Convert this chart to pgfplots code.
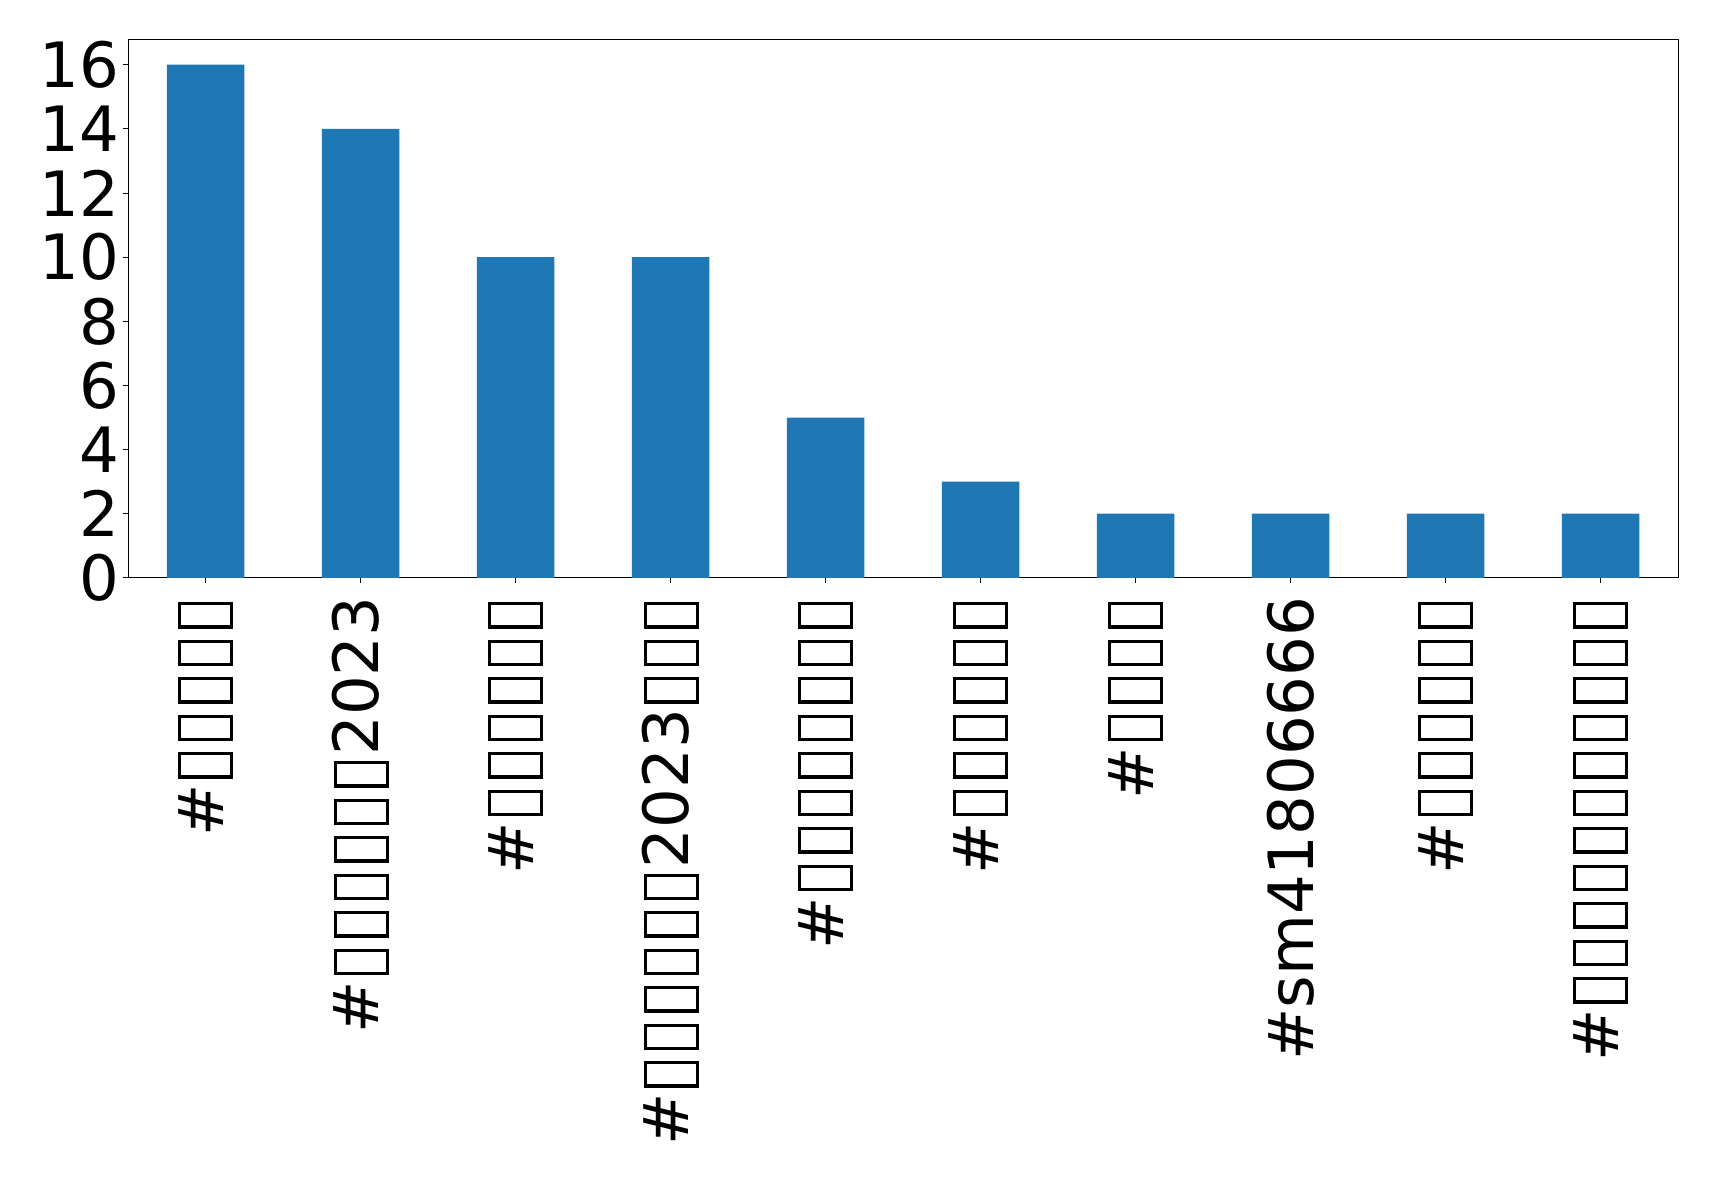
\documentclass[border=0pt]{standalone}
\usepackage{fontspec}
\setmainfont{DejaVu Sans}
\usepackage{pgfplots}
\pgfplotsset{compat=1.18}
\definecolor{barblue}{HTML}{1F77B4}
% empty glyph box, as the renderer drew missing characters
\newcommand\T{\kern0.09em{\setlength\fboxsep{0pt}\setlength\fboxrule{0.05em}\fbox{\rule[-0.11em]{0pt}{0.78em}\rule{0.32em}{0pt}}}\kern0.09em}
\begin{document}
\begin{tikzpicture}
\begin{axis}[
    name=ax,
    scale only axis,
    width=1116pt, height=388pt,
    xmin=-0.5, xmax=9.5,
    ymin=0, ymax=16.8,
    xtick={0,...,9},
    xticklabels={
        {\#\T\T\T\T\T},
        {\#\T\T\T\T\T\T2023},
        {\#\T\T\T\T\T\T},
        {\#\T\T\T\T\T\T2023\T\T\T},
        {\#\T\T\T\T\T\T\T\T},
        {\#\T\T\T\T\T\T},
        {\#\T\T\T\T},
        {\#sm41806666},
        {\#\T\T\T\T\T\T},
        {\#\T\T\T\T\T\T\T\T\T\T\T}},
    ytick={0,2,...,16},
    xtick pos=bottom, ytick pos=left,
    tick align=outside,
    major tick length=3.6pt,
    tick style={black, line width=0.6pt},
    axis line style={line width=0.6pt},
    ticklabel style={font=\fontsize{45}{45}\selectfont, inner sep=0pt},
    yticklabel style={xshift=-2.5pt},
    xticklabel style={yshift=-9.7pt, rotate=90, anchor=east},
    /pgf/number format/assume math mode=true,
]
\addplot[ybar, bar width=0.5, fill=barblue, draw=none]
    coordinates {(0,16) (1,14) (2,10) (3,10) (4,5) (5,3) (6,2) (7,2) (8,2) (9,2)};
\end{axis}
\path ([xshift=-92.2pt,yshift=-431.3pt]ax.south west) rectangle ([xshift=29.5pt,yshift=28.1pt]ax.north east);
\end{tikzpicture}
\end{document}
